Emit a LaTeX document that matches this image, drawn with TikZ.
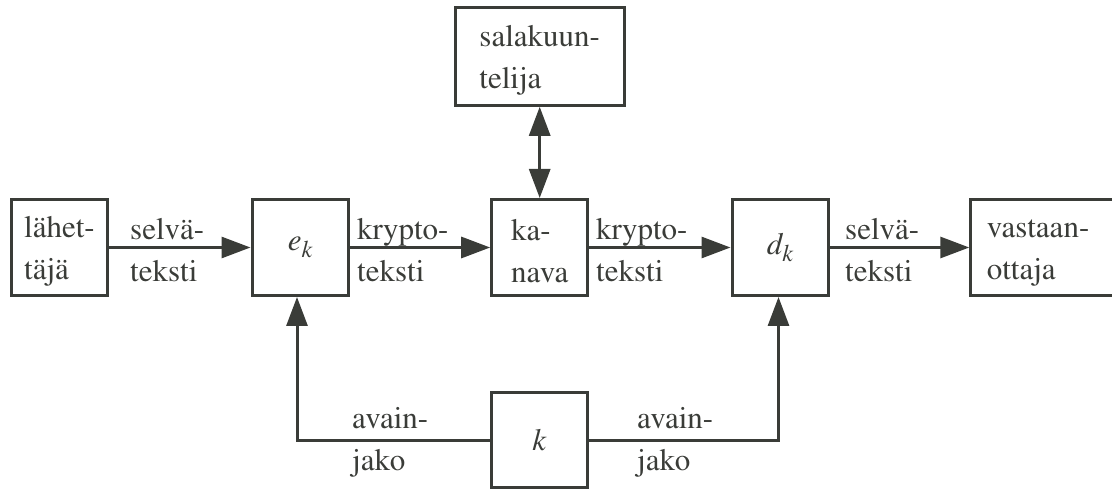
\documentclass[tikz,border=0pt]{standalone}
\usepackage[T1]{fontenc}
\usepackage{mathptmx}
\usetikzlibrary{arrows.meta}
\definecolor{ink}{RGB}{58,60,56}
\newcommand\subk[1]{\raisebox{-7pt}{\fontsize{24}{24}\selectfont\itshape #1}}
\newcommand\topst{\rule{0pt}{29pt}}
\begin{document}
\begin{tikzpicture}[x=1pt,y=-1pt,
  box/.style={draw=ink, line width=3pt, minimum width=96pt, minimum height=96pt,
    inner sep=0pt, align=left, text=ink, font=\rmfamily\fontsize{31}{42}\selectfont},
  lab/.style={text=ink, align=left, inner sep=0pt, anchor=west, font=\rmfamily\fontsize{31}{42}\selectfont},
  tip/.tip={Triangle[length=29pt,width=21pt]},
  arr/.style={draw=ink, line width=3pt, -tip},
]
\useasboundingbox (0,0) rectangle (1112,489);
\node[box] (send) at (59.5,247.5) {\topst lähet-\\täjä};
\node[box] (ek) at (300,247.5) {\itshape e\subk{k}};
\node[box] (kan) at (539.7,247.5) {\topst ka-\\nava};
\node[box] (dk) at (780,247.5) {\itshape d\subk{k}};
\node[box, minimum width=150pt, text width=118pt] (recv) at (1045.8,247.5) {\topst vastaan-\\ottaja};
\node[box, minimum width=169pt, minimum height=98pt] (eve) at (539.7,56.3) {\topst salakuun-\\telija};
\node[box, minimum height=95pt] (key) at (539.2,440) {\itshape k};

\draw[arr] (send) -- (ek);
\draw[arr] (ek) -- (kan);
\draw[arr] (kan) -- (dk);
\draw[arr] (dk) -- (recv);
\draw[arr, tip-tip] (kan.north) -- (eve.south);
\draw[arr] (key.west) -| ([xshift=-3pt]ek.south);
\draw[arr] (key.east) -| ([xshift=-1.5pt]dk.south);

\node[lab] (l1) at (130,250) {selvä-\\teksti};
\node[lab] (l2) at (357,250) {krypto-\\teksti};
\node[lab] (l3) at (596,250) {krypto-\\teksti};
\node[lab] (l4) at (845,250) {selvä-\\teksti};
\node[lab] (l5) at (352,442) {avain-\\jako};
\node[lab] (l6) at (637,442) {avain-\\jako};
\end{tikzpicture}
\end{document}
